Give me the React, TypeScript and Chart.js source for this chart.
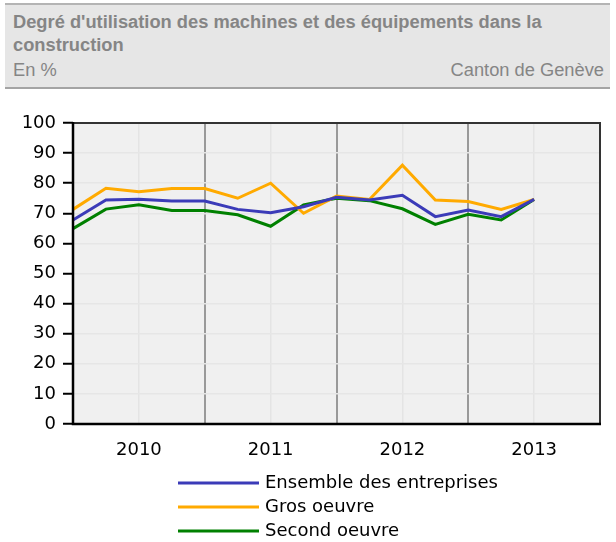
import React, { useEffect, useRef } from "react";
import { Chart, registerables } from "chart.js";

Chart.register(...registerables);

const quarters: string[] = [
  "2010 T1", "2010 T2", "2010 T3", "2010 T4",
  "2011 T1", "2011 T2", "2011 T3", "2011 T4",
  "2012 T1", "2012 T2", "2012 T3", "2012 T4",
  "2013 T1", "2013 T2", "2013 T3", "2013 T4",
  "2014 T1",
];
const yearLabels: string[] = ["2010", "2011", "2012", "2013"];
const seriesNames: string[] = ["Ensemble des entreprises", "Gros oeuvre", "Second oeuvre"];
const ensemble: number[] = [67.8, 74.4, 74.7, 74.1, 74.1, 71.3, 70.2, 72.2, 75.3, 74.4, 76.0, 68.9, 71.1, 68.9, 74.6];
const grosOeuvre: number[] = [71.3, 78.3, 77.2, 78.2, 78.2, 75.0, 80.0, 70.0, 75.7, 74.6, 86.0, 74.4, 73.9, 71.3, 74.6];
const secondOeuvre: number[] = [64.9, 71.4, 72.8, 70.9, 70.9, 69.5, 65.7, 72.8, 75.0, 74.2, 71.5, 66.3, 69.7, 67.8, 74.6];
const colors: string[] = ["#3b3bb8", "#ffaa00", "#008000"];

const FONT = "'DejaVu Sans', Verdana, sans-serif";

const plotPlugin = {
  id: "plotDeco",
  beforeDraw(chart: any) {
    const { ctx, chartArea } = chart;
    ctx.save();
    ctx.fillStyle = "#f0f0f0";
    ctx.fillRect(chartArea.left, chartArea.top, chartArea.right - chartArea.left, chartArea.bottom - chartArea.top);
    ctx.restore();
  },
  afterDatasetsDraw(chart: any) {
    const { ctx, chartArea } = chart;
    ctx.save();
    ctx.strokeStyle = "#333333";
    ctx.lineWidth = 2;
    ctx.strokeRect(chartArea.left, chartArea.top, chartArea.right - chartArea.left, chartArea.bottom - chartArea.top);
    ctx.strokeStyle = "#000000";
    ctx.lineWidth = 2.5;
    ctx.beginPath();
    ctx.moveTo(chartArea.left, chartArea.top - 1);
    ctx.lineTo(chartArea.left, chartArea.bottom);
    ctx.lineTo(chartArea.right + 1, chartArea.bottom);
    ctx.stroke();
    ctx.restore();
  },
  afterDraw(chart: any) {
    const { ctx } = chart;
    ctx.save();
    ctx.font = `18px ${FONT}`;
    ctx.textBaseline = "middle";
    ctx.fillStyle = "#000000";
    chart.data.datasets.forEach((ds: any, i: number) => {
      const y = 483 + i * 24;
      ctx.strokeStyle = ds.borderColor;
      ctx.lineWidth = 3;
      ctx.beginPath();
      ctx.moveTo(178, y);
      ctx.lineTo(259, y);
      ctx.stroke();
      ctx.fillText(ds.label, 265, y);
    });
    ctx.restore();
  },
};

function App() {
  const canvasRef = useRef<HTMLCanvasElement | null>(null);

  useEffect(() => {
    if (!canvasRef.current) return;
    const series = [ensemble, grosOeuvre, secondOeuvre];
    const chart = new Chart(canvasRef.current, {
      type: "line",
      data: {
        labels: quarters,
        datasets: series.map((d, i) => ({
          label: seriesNames[i],
          data: d,
          borderColor: colors[i],
          backgroundColor: colors[i],
          borderWidth: 3,
          pointRadius: 0,
          tension: 0,
          fill: false,
        })),
      },
      options: {
        responsive: false,
        animation: false,
        layout: { padding: { top: 123, right: 16, bottom: 78, left: 0 } },
        plugins: {
          legend: { display: false },
          tooltip: { enabled: false },
        },
        scales: {
          x: {
            type: "category",
            offset: false,
            border: { display: false },
            grid: {
              drawTicks: false,
              color: (c: any) => {
                const idx = c.index;
                if (idx === 4 || idx === 8 || idx === 12) return "#999999";
                if (idx === 2 || idx === 6 || idx === 10 || idx === 14) return "#e4e4e4";
                return "rgba(0,0,0,0)";
              },
              lineWidth: (c: any) => {
                const idx = c.index;
                if (idx === 4 || idx === 8 || idx === 12) return 2;
                return 1.5;
              },
            },
            ticks: {
              autoSkip: false,
              maxRotation: 0,
              padding: 16,
              color: "#000000",
              font: { family: FONT, size: 18 },
              callback: (_v: any, idx: number) => {
                if (idx % 4 === 2) return yearLabels[(idx - 2) / 4] ?? "";
                return "";
              },
            },
            afterFit: (s: any) => {
              s.height = 40;
            },
          },
          y: {
            min: 0,
            max: 100,
            border: { display: false },
            grid: {
              color: "#e6e6e6",
              lineWidth: 1.5,
              tickColor: "#000000",
              tickLength: 10,
              tickWidth: 2,
            },
            ticks: {
              stepSize: 10,
              padding: 7,
              color: "#000000",
              font: { family: FONT, size: 18 },
            },
            afterFit: (s: any) => {
              s.width = 73;
            },
          },
        },
      },
      plugins: [plotPlugin],
    });
    return () => chart.destroy();
  }, []);

  return (
    <div style={{ position: "absolute", left: 0, top: 0, width: 616, height: 542, background: "#ffffff", overflow: "hidden" }}>
      <canvas ref={canvasRef} width={616} height={542} style={{ position: "absolute", left: 0, top: 0 }} />
      <div
        style={{
          position: "absolute",
          left: 5,
          top: 3,
          width: 605,
          height: 86,
          boxSizing: "border-box",
          background: "#e6e6e6",
          borderTop: "2px solid #b4b4b4",
          borderBottom: "2px solid #a4a4a4",
          fontFamily: "'Liberation Sans', Arial, sans-serif",
          color: "#858585",
        }}
      >
        <div style={{ position: "absolute", left: 8, top: 6.3, fontWeight: "bold", fontSize: 18.3, lineHeight: "22.5px", whiteSpace: "nowrap" }}>
          <div>Degré d'utilisation des machines et des équipements dans la</div>
          <div>construction</div>
        </div>
        <div style={{ position: "absolute", left: 8, right: 6, top: 54.3, fontSize: 18.3, lineHeight: "22.5px", display: "flex", justifyContent: "space-between" }}>
          <span>En %</span>
          <span>Canton de Genève</span>
        </div>
      </div>
    </div>
  );
}

export default App;
